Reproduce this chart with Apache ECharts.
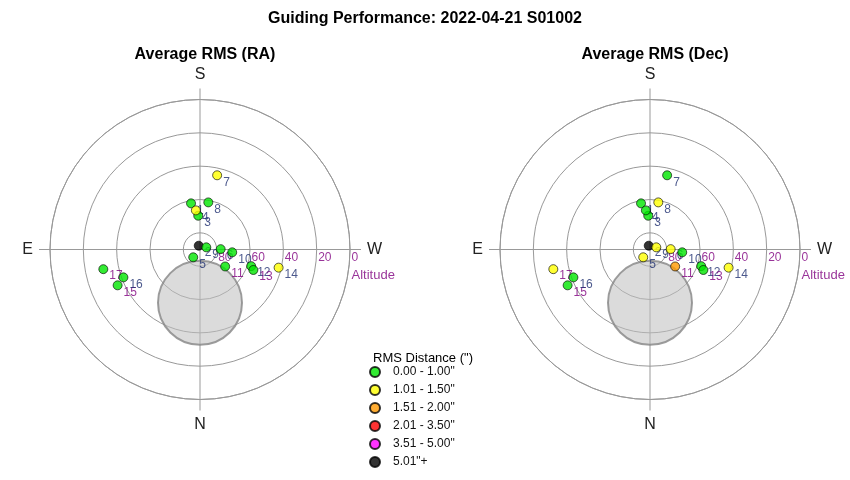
<!DOCTYPE html>
<html>
<head>
<meta charset="utf-8">
<script src="https://cdn.jsdelivr.net/npm/echarts@6/dist/echarts.min.js"></script>
<style>
html,body{margin:0;padding:0;background:#fff;}
#chart{width:850px;height:480px;}
</style>
</head>
<body>
<div id="chart"></div>
<script>
// ---- data ----
const pointNumbers = [1,2,3,4,5,6,7,8,9,10,11,12,13,14,15,16,17];
const azimuthDeg  = [169, 161, 177, 174, 41, 269, 193, 190, 251, 275, 304, 288, 291, 283, 66.5, 70, 78.5];
const altitudeDeg = [61.8, 87.6, 69.7, 66.4, 83.8, 77.6, 44.3, 61.3, 86, 70.6, 71.8, 57.7, 55.7, 41.6, 36.1, 41.1, 30.8];
// RMS bin index per point (0: 0.00-1.00, 1: 1.01-1.50, 2: 1.51-2.00, 3: 2.01-3.50, 4: 3.51-5.00, 5: 5.01+)
const raBin  = [0,5,0,1,0,0,1,0,0,0,0,0,0,1,0,0,0];
const decBin = [0,5,0,0,1,1,0,1,1,0,2,0,0,1,0,0,1];
const binLabels = ['0.00 - 1.00"', '1.01 - 1.50"', '1.51 - 2.00"', '2.01 - 3.50"', '3.51 - 5.00"', '5.01"+'];
const altitudeTicks = [80, 60, 40, 20, 0];
const cardinalLabels = {0: 'N', 90: 'E', 180: 'S', 270: 'W'};
const obstructionAltAz = [58, 0];
const plotTitles = ['Average RMS (RA)', 'Average RMS (Dec)'];
const mainTitle = 'Guiding Performance: 2022-04-21 S01002';
const legendTitle = 'RMS Distance (")';

// ---- styles ----
const binColors = ['#00e600', '#ffff00', '#ff9900', '#ff0000', '#ff00ff', '#000000'];
const FONT = 'Liberation Sans, Arial, sans-serif';
const GRID = '#999999';
const NAVY = '#1f2f70';
const PURPLE = '#800080';
const centers = [[200, 249.5], [650, 249.5]];
const bins = [raBin, decBin];

const polar = centers.map(c => ({center: c, radius: 150}));
const angleAxis = centers.map((c, i) => ({
  polarIndex: i, type: 'value', min: 0, max: 360, interval: 90,
  startAngle: 270, clockwise: true,
  axisLine: {lineStyle: {color: GRID, width: 1}},
  axisTick: {show: true, length: 11, lineStyle: {color: GRID}},
  splitLine: {show: true, lineStyle: {color: GRID, width: 1}},
  axisLabel: {
    margin: 17, fontSize: 16, color: '#222', fontFamily: FONT,
    formatter: v => cardinalLabels[v] || ''
  }
}));
const radiusAxis = centers.map((c, i) => ({
  polarIndex: i, type: 'value', min: 0, max: 90, interval: 20, inverse: true,
  axisLine: {show: false}, axisTick: {show: false}, axisLabel: {show: false},
  splitLine: {show: true, lineStyle: {color: GRID, width: 1}}
}));

const series = [];
centers.forEach((c, p) => {
  // obstruction disc
  series.push({
    type: 'scatter', coordinateSystem: 'polar', polarIndex: p, silent: true, z: 1,
    symbolSize: 84,
    itemStyle: {color: 'rgba(190,190,190,0.7)', borderColor: '#858585', borderWidth: 2},
    data: [obstructionAltAz]
  });
  // altitude labels
  const altData = altitudeTicks.map(a => ({value: [a, 270], name: String(a)}));
  altData.push({value: [0, 270], name: 'Altitude', label: {offset: [0, 26], fontSize: 13}});
  series.push({
    type: 'scatter', coordinateSystem: 'polar', polarIndex: p, silent: true, z: 2,
    symbolSize: 1, itemStyle: {color: 'rgba(0,0,0,0)'},
    label: {show: true, position: 'right', distance: 1, offset: [0, 8.5], formatter: '{b}',
            color: PURPLE, fontSize: 12, fontFamily: FONT},
    data: altData
  });
  // point number labels
  series.push({
    type: 'scatter', coordinateSystem: 'polar', polarIndex: p, silent: true, z: 2,
    symbolSize: 1, itemStyle: {color: 'rgba(0,0,0,0)'},
    label: {show: true, position: 'right', distance: 5.5, offset: [0, 7], formatter: '{b}',
            fontSize: 12, fontFamily: FONT},
    data: pointNumbers.map((n, k) => ({
      value: [altitudeDeg[k], azimuthDeg[k]], name: String(n),
      label: {color: (n >= 11 && n % 2 === 1) ? PURPLE : NAVY}
    }))
  });
  // markers
  series.push({
    type: 'scatter', coordinateSystem: 'polar', polarIndex: p, silent: true, z: 3,
    symbolSize: 9,
    itemStyle: {borderColor: '#000', borderWidth: 0.8},
    data: pointNumbers.map((n, k) => ({
      value: [altitudeDeg[k], azimuthDeg[k]],
      itemStyle: {color: binColors[bins[p][k]]}
    }))
  });
});
// legend entries
binLabels.forEach((lab, i) => {
  series.push({
    type: 'scatter', coordinateSystem: 'polar', polarIndex: 0, name: lab, data: [],
    itemStyle: {color: binColors[i], borderColor: '#000', borderWidth: 0.8}
  });
});

const option = {
  backgroundColor: '#fff',
  animation: false,
  textStyle: {fontFamily: FONT},
  title: [
    {text: mainTitle, left: 'center', top: 6, textStyle: {fontSize: 16, fontWeight: 'bold', color: '#000', fontFamily: FONT}},
    {text: plotTitles[0], left: 200, textAlign: 'center', top: 42, textStyle: {fontSize: 16, fontWeight: 'bold', color: '#000', fontFamily: FONT}},
    {text: plotTitles[1], left: 650, textAlign: 'center', top: 42, textStyle: {fontSize: 16, fontWeight: 'bold', color: '#000', fontFamily: FONT}},
    {text: legendTitle, left: 368, top: 347, textStyle: {fontSize: 13, fontWeight: 'normal', color: '#000', fontFamily: FONT}}
  ],
  legend: {
    data: binLabels, orient: 'vertical', left: 364, top: 361,
    itemWidth: 26, itemHeight: 10, itemGap: 6, icon: 'circle', selectedMode: false,
    textStyle: {fontSize: 12, color: '#111', fontFamily: FONT}
  },
  polar, angleAxis, radiusAxis, series
};
const chart = echarts.init(document.getElementById('chart'), null, {renderer: 'canvas'});
chart.setOption(option);
</script>
</body>
</html>
